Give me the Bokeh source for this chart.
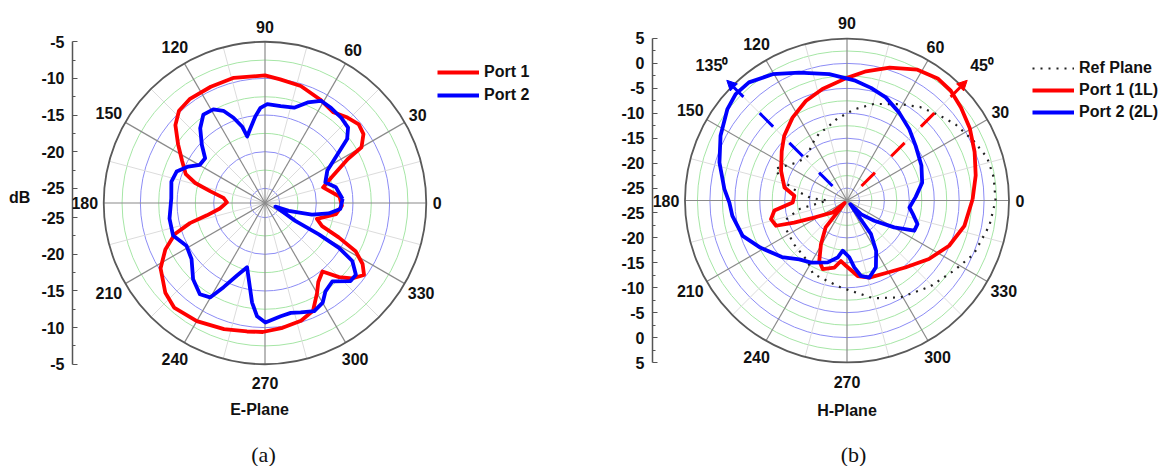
import numpy as np
from bokeh.plotting import figure
from bokeh.models import (Range1d, LinearAxis, FixedTicker, Legend, LegendItem,
                          Arrow, NormalHead, LabelSet, ColumnDataSource)
from bokeh.layouts import row, column
from bokeh.embed import file_html
from bokeh.resources import INLINE
from bokeh.core.properties import value

FONT = "Liberation Sans"

# ---------------- data (angle in degrees, level in dB) ----------------
e_port1_deg = [5, 15, 21, 28, 30, 35, 40, 46, 53, 62, 73, 83, 90, 104, 115, 126, 133, 139,
               146, 153, 160, 164, 168, 173, 179, 187, 192, 195, 199, 205, 212, 222, 229,
               240, 252, 262, 269, 278, 287, 294, 300, 304, 310, 315, 319, 324, 328, 332,
               335, 338, 343, 351, 358]
e_port1_db = [-16.8, -18.8, -17.3, -14.2, -11.8, -10.6, -10.3, -10.8, -11.5, -11.0, -10.3,
              -10.0, -9.6, -9.4, -9.5, -9.5, -9.8, -10.8, -12.7, -14.3, -15.5, -17.1, -19.4,
              -21.3, -21.8, -20.8, -18.9, -16.4, -14.0, -12.0, -10.2, -8.7, -8.1, -8.4, -8.9,
              -9.3, -9.4, -9.8, -10.2, -10.9, -12.8, -14.0, -14.8, -12.7, -11.3, -10.3, -11.3,
              -13.0, -15.9, -18.6, -19.6, -17.2, -16.5]

e_port2_deg = [3, 12.6, 18.9, 27.6, 37.9, 42.2, 48.2, 55.3, 61.3, 67, 73, 80.8, 88.7, 92.7,
               96.3, 101, 105, 106.7, 110.3, 114.3, 118.9, 124.9, 130.9, 137.4, 143.2, 149.6,
               154.6, 160.4, 167.1, 177.2, 189.3, 199.4, 208.5, 217.3, 226.7, 234.5, 239.8,
               243.8, 248.9, 254.4, 257.9, 262.6, 266, 270.2, 277.9, 283.2, 288.1, 294.5,
               300.1, 304.4, 310.6, 317.6, 321.7, 326.4, 328.8, 329.8, 329.5, 341, 341.7,
               346, 350.7, 355.4]
e_port2_db = [-16.4, -17.1, -18.3, -17.4, -12.8, -11.7, -11.4, -11.2, -11.1, -12.1, -13.4,
              -13.6, -13.5, -14.0, -15.1, -16.6, -17.6, -16.1, -14.6, -13.2, -12.4, -12.3,
              -13.5, -15.3, -16.8, -16.7, -15.4, -14.2, -13.9, -14.2, -13.8, -13.7, -14.8,
              -14.4, -12.7, -11.7, -12.1, -14.2, -16.4, -17.9, -16.4, -13.3, -11.5, -10.7,
              -11.4, -11.6, -11.3, -10.8, -11.3, -12.4, -12.9, -11.2, -11.2, -12.7, -15.2,
              -18.5, -22.2, -25.5, -23.6, -20.4, -18.2, -16.7]

h_ref_deg = [0, 9, 17, 25, 35, 42, 52, 61, 74.5, 85, 90, 97, 105, 113, 122, 133, 144, 156,
             162, 168, 176, 180, 190, 195, 199, 210, 219, 237, 245, 256, 266, 276, 285, 299,
             314, 327, 337, 350]
h_ref_db = [2.3, 2.3, 1.9, 0.6, -0.9, -2.2, -3.7, -5.4, -7.4, -9.1, -10.0, -11.0, -12.3,
            -13.0, -14.2, -15.7, -14.7, -11.8, -13.5, -16.5, -20.2, -23.6, -18.0, -15.8,
            -13.8, -14.0, -13.7, -13.0, -11.3, -10.9, -10.0, -8.9, -7.2, -5.3, -3.5, -1.8,
            0.1, 1.5]

h_port1_deg = [0.6, 11, 20.9, 30.6, 39.2, 46.6, 53.4, 61.7, 72.2, 81.6, 90.6, 102.4, 112.5,
               123.3, 134.1, 143, 155.8, 168.3, 174.9, 182.1, 187.8, 193.8, 199.6, 202.7,
               207.5, 220, 227, 231.5, 239.2, 245.3, 250.5, 259.3, 264.3, 269.1, 278.1,
               286.2, 299.5, 311, 324.5, 336.1, 347.8]
h_port1_db = [-2.3, -1.2, -0.1, 1.1, 2.0, 2.8, 3.0, 2.3, 0.5, -1.3, -3.0, -4.6, -5.9, -7.6,
              -9.4, -11.1, -13.0, -14.7, -16.9, -16.6, -12.8, -11.8, -12.4, -16.0, -20.1,
              -23.8, -26.8, -20.6, -17.3, -14.2, -12.9, -13.8, -15.3, -14.4, -12.2, -11.4,
              -10.9, -9.7, -7.3, -5.1, -3.4]

h_port2_deg = [3, 13.4, 25.2, 38.5, 48.9, 59.3, 69.4, 78, 86, 98, 110.5, 120.5, 129.7,
               136.3, 142.6, 152.9, 163.4, 174.7, 181, 187.6, 198.7, 208.5, 221, 231, 240,
               252.7, 260.7, 265.1, 272.3, 276.2, 280.5, 286.2, 293.4, 300, 305.5, 311, 316,
               323.4, 330.3, 335.8, 341.5, 348.3, 353.6]
h_port2_db = [-13.7, -12.0, -11.0, -9.9, -8.5, -7.0, -5.4, -4.4, -3.4, -1.9, -0.1, 1.9, 3.3,
              3.4, 2.7, 1.0, -0.8, -2.8, -3.9, -4.3, -5.4, -7.7, -10.2, -12.3, -13.1, -14.5,
              -15.9, -17.4, -16.1, -14.0, -12.1, -11.4, -12.9, -15.8, -19.2, -26.5, -23.5,
              -20.7, -16.6, -12.7, -12.6, -14.0, -14.9]

angle_ticks = [0, 30, 60, 90, 120, 150, 180, 210, 240, 270, 300, 330]
angle_labels = [str(a) for a in angle_ticks]
e_db_ticks = [-5, -10, -15, -20, -25]
h_db_ticks = [5, 0, -5, -10, -15, -20, -25]
arrow_angles = [135, 45]
arrow_labels = ["135\u2070", "45\u2070"]
plane_names = ["E-Plane", "H-Plane"]
captions = ["(a)", "(b)"]

RED = "#ff0000"
BLUE = "#0000ff"
TXT = "#111111"

W_PANEL = 583
H_MAIN = 394
H_CAP = 466 - H_MAIN


def polar_xy(deg, db, center, close=True):
    d = np.asarray(deg, float)
    v = np.asarray(db, float)
    if close:
        d = np.append(d, d[0])
        v = np.append(v, v[0])
    t = np.deg2rad(d)
    r = np.clip(v - center, 0, None)
    return r * np.cos(t), r * np.sin(t)


def make_panel(width, height, border_left, pole_x, pole_y, ppd, db_center, db_outer,
               db_ticks, axis_title):
    x0 = (border_left - pole_x) / ppd
    x1 = (width - pole_x) / ppd
    y0 = (pole_y - height) / ppd
    y1 = pole_y / ppd
    p = figure(width=width, height=height, x_range=Range1d(x0, x1), y_range=Range1d(y0, y1),
               x_axis_location=None, y_axis_location=None, toolbar_location=None,
               output_backend="svg", min_border_left=border_left, min_border_right=0,
               min_border_top=0, min_border_bottom=0)
    p.outline_line_color = None
    p.grid.visible = False
    p.background_fill_color = "white"
    p.border_fill_color = "white"
    R = db_outer - db_center

    # concentric grid circles: blue every 5 dB, green midway
    majors = [d - db_center for d in range(int(db_outer) - 5, int(db_center), -5)]
    minors = [m + 2.5 for m in majors]
    p.circle(x=[0] * len(minors), y=[0] * len(minors), radius=minors, fill_color=None,
             line_color="#a6e6a6", line_width=1)
    p.circle(x=[0] * len(majors), y=[0] * len(majors), radius=majors, fill_color=None,
             line_color="#8c8cf5", line_width=1)

    # spokes
    mn = np.deg2rad(np.arange(15, 360, 30))
    p.segment(x0=[0] * len(mn), y0=[0] * len(mn), x1=R * np.cos(mn), y1=R * np.sin(mn),
              line_color="#dcdcdc", line_width=1)
    mj = np.deg2rad(np.array(angle_ticks, float))
    p.segment(x0=[0] * len(mj), y0=[0] * len(mj), x1=R * np.cos(mj), y1=R * np.sin(mj),
              line_color="#8a8a8a", line_width=1.2)
    p.circle(x=[0], y=[0], radius=[R], fill_color=None, line_color="#5a5a5a", line_width=1.8)

    # angular labels
    lr = np.array([R + (7 + 4 * len(s)) / ppd for s in angle_labels])
    src = ColumnDataSource(dict(x=lr * np.cos(mj), y=lr * np.sin(mj), t=angle_labels))
    p.add_layout(LabelSet(x="x", y="y", text="t", source=src, text_align="center",
                          text_baseline="middle", text_font=value(FONT),
                          text_font_style=value("bold"), text_font_size=value("16px"),
                          text_color=TXT))

    # radial dB axis (mirrored about the pole)
    pos = [float(d - db_center) for d in db_ticks]
    ticks = pos + [-q for q in pos]
    srt = sorted(pos, reverse=True)
    mins = [(a + b) / 2 for a, b in zip(srt[:-1], srt[1:])]
    mins = mins + [-m for m in mins]
    overrides = {}
    for d, q in zip(db_ticks, pos):
        overrides[q] = str(d)
        overrides[-q] = str(d)
    ax = LinearAxis(ticker=FixedTicker(ticks=ticks, minor_ticks=mins), bounds=(-R, R),
                    major_label_overrides=overrides)
    ax.axis_line_color = "#555555"
    ax.axis_line_width = 1.5
    ax.major_tick_in = 5
    ax.major_tick_out = 0
    ax.minor_tick_in = 3
    ax.minor_tick_out = 0
    ax.major_tick_line_color = "#555555"
    ax.minor_tick_line_color = "#555555"
    ax.major_label_standoff = 8
    ax.major_label_text_font = FONT
    ax.major_label_text_font_style = "bold"
    ax.major_label_text_font_size = "16px"
    ax.major_label_text_color = TXT
    if axis_title:
        ax.axis_label = axis_title
        ax.axis_label_orientation = "horizontal"
        ax.axis_label_standoff = 8
        ax.axis_label_text_font = FONT
        ax.axis_label_text_font_style = "bold"
        ax.axis_label_text_font_size = "16px"
        ax.axis_label_text_color = TXT
    p.add_layout(ax, "left")
    return p, R


def style_legend(lg, vx, vy, spacing):
    lg.location = (vx, vy)
    lg.padding = 0
    lg.margin = 0
    lg.spacing = spacing
    lg.glyph_width = 42
    lg.glyph_height = 20
    lg.label_height = 20
    lg.label_standoff = 5
    lg.border_line_color = None
    lg.background_fill_alpha = 0
    lg.label_text_font = FONT
    lg.label_text_font_style = "bold"
    lg.label_text_font_size = "16px"
    lg.label_text_color = TXT


# ---------------- panel (a): E-plane ----------------
E_CENTER, E_OUTER, E_PPD = -27.0, -5.0, 7.33
p1, R1 = make_panel(W_PANEL, H_MAIN, 72, 264.5, 202.5, E_PPD, E_CENTER, E_OUTER,
                    e_db_ticks, "dB")
x, y = polar_xy(e_port1_deg, e_port1_db, E_CENTER)
r_e1 = p1.line(x, y, line_color=RED, line_width=3.8, line_join="round")
x, y = polar_xy(e_port2_deg, e_port2_db, E_CENTER)
r_e2 = p1.line(x, y, line_color=BLUE, line_width=3.8, line_join="round")
lg1 = Legend(items=[LegendItem(label="Port 1", renderers=[r_e1]),
                    LegendItem(label="Port 2", renderers=[r_e2])])
style_legend(lg1, 365, H_MAIN - 105, 3)
p1.add_layout(lg1)

# ---------------- panel (b): H-plane ----------------
H_CENTER, H_OUTER, H_PPD = -27.5, 5.0, 4.985
p2, R2 = make_panel(W_PANEL, H_MAIN, 69, 263.5, 200, H_PPD, H_CENTER, H_OUTER,
                    h_db_ticks, None)
x, y = polar_xy(h_ref_deg, h_ref_db, H_CENTER)
r_h0 = p2.line(x, y, line_color="#222222", line_width=2.2, line_dash="2 6")
x, y = polar_xy(h_port1_deg, h_port1_db, H_CENTER)
r_h1 = p2.line(x, y, line_color=RED, line_width=3.8, line_join="round")
x, y = polar_xy(h_port2_deg, h_port2_db, H_CENTER)
r_h2 = p2.line(x, y, line_color=BLUE, line_width=3.8, line_join="round")

# beam-direction arrows with their angle labels
for ang, lab, col in zip(arrow_angles, arrow_labels, [BLUE, RED]):
    t = np.deg2rad(ang)
    rs, re = 20.5 / H_PPD, 170 / H_PPD
    p2.add_layout(Arrow(x_start=rs * np.cos(t), y_start=rs * np.sin(t),
                        x_end=re * np.cos(t), y_end=re * np.sin(t),
                        line_color=col, line_width=3, line_dash="19 23",
                        end=NormalHead(size=10, fill_color=col, line_color=col)))
    rl = 191 / H_PPD
    p2.text(x=[rl * np.cos(t)], y=[rl * np.sin(t)], text=[lab], text_align="center",
            text_baseline="middle", text_font=value(FONT), text_font_style="bold",
            text_font_size="16px", text_color=TXT)

lg2 = Legend(items=[LegendItem(label="Ref Plane", renderers=[r_h0]),
                    LegendItem(label="Port 1 (1L)", renderers=[r_h1]),
                    LegendItem(label="Port 2 (2L)", renderers=[r_h2])])
style_legend(lg2, 380, H_MAIN - 122, 2)
p2.add_layout(lg2)

# ---------------- captions strip (pixel coordinates) ----------------
cap = figure(width=2 * W_PANEL, height=H_CAP, x_range=Range1d(0, 2 * W_PANEL),
             y_range=Range1d(466, H_MAIN), x_axis_location=None, y_axis_location=None,
             toolbar_location=None, output_backend="svg", min_border=0)
cap.outline_line_color = None
cap.grid.visible = False
cap.text(x=[259, 846.5], y=[409, 410], text=plane_names, text_align="center",
         text_baseline="middle", text_font=value(FONT), text_font_style="bold",
         text_font_size="16px", text_color=TXT)
cap.text(x=[263, 853], y=[454, 454], text=captions, text_align="center",
         text_baseline="middle", text_font=value("Liberation Serif"),
         text_font_size="22px", text_color=TXT)

layout = column(row(p1, p2), cap)
open("out.html", "w").write(file_html(layout, INLINE))
